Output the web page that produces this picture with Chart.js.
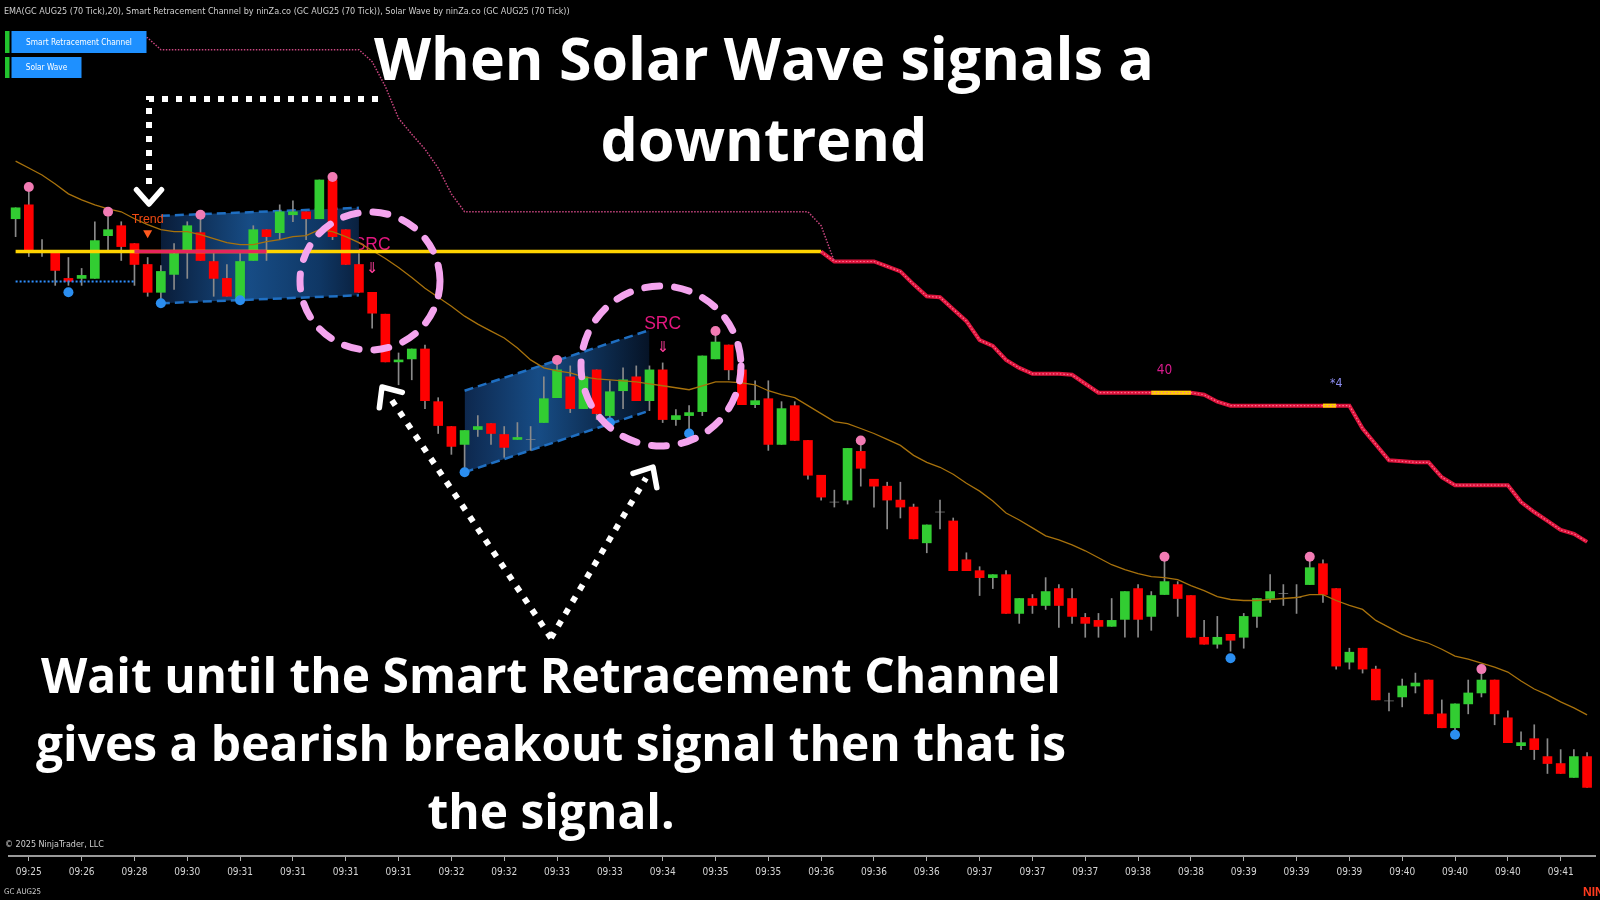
<!DOCTYPE html>
<html>
<head>
<meta charset="utf-8">
<title>GC AUG25 (70 Tick)</title>
<script src="https://cdn.jsdelivr.net/npm/chart.js@4.4.1/dist/chart.umd.min.js"></script>
<style>
  html, body { margin: 0; padding: 0; background: #000; }
  canvas { display: block; }
</style>
</head>
<body>
<canvas id="chart" width="1600" height="900"></canvas>
<script>
// x axis time labels, one every 4 bars starting at bar 1
const timeLabels = ['09:25','09:26','09:28','09:30','09:31','09:31','09:31','09:31','09:32','09:32',
  '09:33','09:33','09:34','09:35','09:35','09:36','09:36','09:36','09:37','09:37',
  '09:37','09:38','09:38','09:39','09:39','09:39','09:40','09:40','09:40','09:41'];
const tickBars = timeLabels.map((_, k) => 1 + 4 * k);

// 70 tick bars, GC AUG25
const opens = [
  3378.5,3379.9,3375.2,3375.1,3372.5,3372.5,3372.5,3376.8,3377.8,3376.0,
  3373.9,3371.1,3372.9,3375.3,3377.1,3374.2,3372.5,3370.3,3374.3,3377.4,
  3377.1,3378.9,3379.2,3378.5,3382.4,3377.4,3373.9,3371.1,3368.9,3364.1,
  3364.4,3365.4,3360.1,3357.6,3355.8,3357.3,3357.9,3356.8,3356.3,3356.3,
  3358.0,3360.5,3362.6,3359.4,3363.3,3358.7,3361.2,3362.6,3360.2,3363.3,
  3358.3,3358.7,3359.1,3364.4,3365.8,3363.3,3359.8,3360.4,3355.8,3359.7,
  3356.2,3352.7,3350.0,3350.2,3355.1,3352.3,3351.6,3350.2,3349.5,3345.9,
  3349.0,3348.1,3344.2,3343.1,3342.4,3342.7,3338.8,3340.3,3339.6,3341.3,
  3340.3,3338.4,3338.1,3337.5,3338.2,3341.3,3338.5,3340.7,3341.7,3340.6,
  3336.4,3335.7,3336.7,3336.4,3338.5,3340.3,3340.8,3340.4,3341.7,3343.8,
  3341.3,3333.9,3335.3,3333.2,3330.0,3330.4,3331.5,3332.1,3328.7,3327.3,
  3329.7,3330.8,3332.1,3328.3,3325.5,3326.2,3324.4,3323.7,3322.3,3324.4];
const highs = [
  3379.6,3381.2,3376.4,3375.1,3374.6,3373.5,3378.2,3378.7,3378.2,3376.0,
  3374.6,3373.8,3376.0,3378.2,3378.9,3375.0,3373.9,3375.0,3377.8,3377.4,
  3379.9,3380.3,3379.2,3382.4,3382.7,3377.4,3375.0,3371.1,3368.9,3365.0,
  3365.4,3365.8,3360.5,3357.6,3357.2,3358.7,3357.9,3357.6,3358.0,3357.6,
  3362.6,3364.3,3363.7,3363.0,3363.3,3362.2,3363.5,3363.7,3363.7,3364.0,
  3359.3,3359.7,3364.7,3367.2,3365.8,3363.3,3362.2,3362.2,3360.1,3360.1,
  3356.2,3352.7,3351.2,3355.4,3355.7,3352.3,3352.0,3352.0,3349.8,3347.7,
  3350.2,3348.4,3344.9,3343.5,3342.7,3343.1,3340.3,3340.7,3342.4,3341.7,
  3341.3,3338.8,3338.8,3340.3,3341.0,3341.7,3341.0,3344.5,3342.0,3340.6,
  3338.1,3338.5,3336.7,3338.8,3340.3,3342.7,3341.7,3341.7,3344.5,3344.2,
  3341.3,3335.3,3335.3,3333.5,3330.8,3332.2,3332.8,3332.1,3330.1,3329.7,
  3332.1,3333.2,3332.1,3329.0,3326.9,3327.6,3326.2,3325.1,3325.1,3324.8];
const lows = [
  3376.7,3374.7,3374.7,3371.8,3371.8,3371.8,3372.5,3375.3,3374.3,3371.8,
  3370.7,3370.3,3371.4,3372.5,3374.3,3370.7,3370.7,3370.3,3374.3,3374.3,
  3376.4,3378.2,3376.4,3378.5,3376.4,3373.9,3371.1,3367.5,3364.1,3361.8,
  3362.3,3359.4,3356.9,3354.8,3353.0,3356.6,3355.8,3354.5,3356.3,3355.2,
  3358.0,3360.5,3359.0,3359.4,3358.3,3358.0,3359.4,3360.2,3359.2,3358.0,
  3357.7,3356.9,3358.7,3364.4,3362.3,3359.8,3359.5,3355.2,3355.8,3356.2,
  3352.3,3350.2,3349.5,3349.8,3351.6,3349.5,3347.3,3348.4,3346.3,3344.9,
  3347.3,3343.1,3343.1,3340.6,3341.3,3338.8,3337.8,3338.8,3339.2,3337.4,
  3337.8,3336.4,3336.4,3337.5,3336.4,3336.4,3337.1,3340.7,3338.5,3336.4,
  3335.7,3335.3,3335.0,3335.3,3337.4,3339.9,3339.6,3338.8,3341.7,3339.9,
  3333.2,3333.2,3332.8,3330.1,3329.0,3329.4,3330.8,3328.7,3327.3,3326.6,
  3328.7,3330.4,3327.6,3325.8,3325.1,3324.1,3322.7,3322.7,3322.3,3321.3];
const closes = [
  3379.6,3375.2,3375.2,3373.3,3372.2,3372.8,3376.3,3377.4,3375.7,3373.9,
  3371.1,3373.2,3375.0,3377.8,3374.3,3372.5,3370.7,3374.2,3377.4,3376.7,
  3379.2,3379.2,3378.5,3382.4,3376.7,3373.9,3371.1,3369.0,3364.1,3364.3,
  3365.4,3360.2,3357.7,3355.6,3357.2,3357.6,3356.9,3355.5,3356.5,3356.3,
  3360.4,3363.3,3359.4,3362.6,3358.9,3361.1,3362.3,3360.2,3363.3,3358.3,
  3358.7,3359.0,3364.7,3366.1,3363.3,3359.8,3360.2,3355.8,3359.4,3356.2,
  3352.7,3350.5,3350.0,3355.4,3353.4,3351.6,3350.2,3349.5,3346.3,3347.7,
  3349.0,3343.1,3343.1,3342.4,3342.7,3338.8,3340.3,3339.6,3341.0,3339.6,
  3338.5,3337.8,3337.5,3338.1,3341.0,3338.2,3340.6,3342.0,3340.3,3336.4,
  3335.7,3336.4,3336.1,3338.5,3340.3,3341.0,3340.8,3340.4,3343.4,3340.7,
  3333.5,3334.9,3333.2,3330.1,3330.0,3331.5,3331.8,3328.7,3327.3,3329.7,
  3330.8,3332.1,3328.7,3325.8,3325.8,3325.1,3323.7,3322.7,3324.4,3321.3];

// EMA(20)
const ema20 = [
  3384.3,3383.6,3382.9,3382.0,3381.0,3380.4,3379.9,3379.5,3379.2,3378.5,
  3377.9,3377.4,3377.2,3377.2,3376.9,3376.5,3376.1,3375.9,3375.9,3376.2,
  3376.4,3376.7,3376.8,3377.4,3377.2,3376.7,3376.1,3375.3,3374.5,3373.6,
  3372.6,3371.5,3370.6,3369.7,3368.7,3367.9,3367.2,3366.5,3365.5,3364.3,
  3363.5,3363.2,3363.0,3362.6,3362.4,3362.3,3362.2,3362.1,3361.9,3361.7,
  3361.5,3361.3,3361.7,3362.1,3362.1,3362.0,3361.8,3361.2,3360.8,3360.5,
  3359.7,3358.9,3358.1,3357.9,3357.4,3356.9,3356.3,3355.7,3354.7,3354.0,
  3353.5,3352.8,3351.9,3351.1,3350.1,3348.9,3348.2,3347.4,3346.6,3346.2,
  3345.7,3345.1,3344.4,3343.7,3343.2,3342.8,3342.5,3342.4,3342.2,3341.6,
  3341.1,3340.5,3340.2,3340.1,3340.1,3340.2,3340.3,3340.4,3340.7,3340.7,
  3340.1,3339.6,3339.2,3338.1,3337.4,3336.7,3336.2,3335.8,3335.2,3334.5,
  3334.2,3333.8,3333.4,3332.9,3332.0,3331.2,3330.6,3329.9,3329.3,3328.6];

// Smart Retracement Channel trailing line, starts at bar 9
const srcTrailStart = 9;
const srcTrail = [
  3396.8,3396.7,
  3395.5,3395.5,3395.5,3395.5,3395.5,3395.5,3395.5,3395.5,3395.5,3395.5,3395.5,3395.5,3395.5,3395.5,3395.5,3395.5,
  3394.3,3391.8,3388.6,3387.0,3385.5,3383.6,3381.0,3379.2,
  3379.2,3379.2,3379.2,3379.2,3379.2,3379.2,3379.2,3379.2,3379.2,3379.2,3379.2,3379.2,3379.2,
  3379.2,3379.2,3379.2,3379.2,3379.2,3379.2,3379.2,3379.2,3379.2,3379.2,3379.2,3379.2,3379.2,
  3377.8,3374.2];

// Solar Wave trailing stop, starts at bar 61
const waveStopStart = 61;
const waveStop = [
  3375.2,3374.2,3374.2,3374.2,3374.2,3373.7,3373.2,3371.9,3370.7,3370.6,
  3369.4,3368.2,3366.3,3365.7,3364.3,3363.5,3362.9,3362.9,3362.9,3362.8,
  3361.9,3361.0,3361.0,3361.0,3361.0,3361.0,3361.0,3361.0,3361.0,3360.8,
  3360.1,3359.7,3359.7,3359.7,3359.7,3359.7,3359.7,3359.7,3359.7,3359.7,
  3359.7,3357.4,3355.8,3354.2,3354.1,3354.0,3354.0,3352.5,3351.7,3351.7,
  3351.7,3351.7,3351.7,3350.0,3349.0,3348.1,3347.2,3346.8,3346.0];
const waveHighlights = [[86, 89], [99, 100]];
const waveCountBars = [87, 100];
const waveCountText = ['40', '*4'];
const waveCountPrices = [3363.2, 3361.9];

// breakout level
const srcLevel = 3375.2;
const srcLevelBars = [0, 61];
const srcBreakBars = [9, 19];
const swingLowLevel = 3372.2;
const swingLowBars = [0, 9];

// retracement channels
const channelBars = [[11, 26], [34, 48]];
const channelTop = [[3378.8, 3379.6], [3361.2, 3367.3]];
const channelBottom = [[3370.0, 3370.8], [3353.0, 3359.2]];

// swing markers
const pinkDotBars = [1, 7, 14, 24, 41, 53, 64, 87, 98, 111];
const pinkDotPrices = [3381.7, 3379.2, 3378.9, 3382.7, 3364.3, 3367.2, 3356.2, 3344.5, 3344.5, 3333.2];
const blueDotBars = [4, 11, 17, 34, 45, 51, 92, 109];
const blueDotPrices = [3371.1, 3370.0, 3370.3, 3353.0, 3358.0, 3356.9, 3334.3, 3326.6];

// signals
const trendBar = 10;
const trendPrice = 3378.4;
const srcSignalBars = [27, 49];
const srcSignalPrices = [3375.8, 3367.9];

const headerText = 'EMA(GC AUG25 (70 Tick),20), Smart Retracement Channel by ninZa.co (GC AUG25 (70 Tick)), Solar Wave by ninZa.co (GC AUG25 (70 Tick))';
const headline = ['When Solar Wave signals a', 'downtrend'];
const caption = ['Wait until the Smart Retracement Channel', 'gives a bearish breakout signal then that is', 'the signal.'];

const BIG = "'Open Sans', 'Noto Sans', sans-serif";
const NARROW = "'Liberation Sans Narrow', 'DejaVu Sans Condensed', 'Liberation Sans', sans-serif";
const SANS = "'Liberation Sans', 'DejaVu Sans', sans-serif";

function fitFont(c, text, width, weight, family) {
  c.font = `${weight} 100px ${family}`;
  const size = 100 * width / c.measureText(text).width;
  return `${weight} ${size.toFixed(2)}px ${family}`;
}

function pts(from, values) {
  return values.map((v, k) => ({ x: from + k, y: v }));
}

function segment(bars, value) {
  return [{ x: bars[0], y: value }, { x: bars[1], y: value }];
}

function channelGradient(k, stops) {
  return (context) => {
    const chart = context.chart;
    if (!chart.chartArea) return 'rgba(20,70,130,0.8)';
    const x0 = chart.scales.x.getPixelForValue(channelBars[k][0]);
    const x1 = chart.scales.x.getPixelForValue(channelBars[k][1]);
    const g = chart.ctx.createLinearGradient(x0, 0, x1, 0);
    stops.forEach(s => g.addColorStop(s[0], s[1]));
    return g;
  };
}

const bars = opens.map((_, i) => i);
const wickData = bars.map(i => ({ x: i, y: [lows[i], highs[i]] }));
const bodyData = bars.map(i => ({ x: i, y: [opens[i], closes[i]] }));
const bodyColors = bars.map(i => closes[i] > opens[i] ? '#32cd32' : (closes[i] < opens[i] ? '#ff0000' : '#8c8c8c'));

const gradStops = [
  [[0, 'rgba(10,30,60,0.95)'], [0.45, 'rgba(24,80,140,0.95)'], [0.8, 'rgba(16,58,106,0.95)'], [1, 'rgba(10,34,66,0.95)']],
  [[0, 'rgba(14,42,82,0.95)'], [0.4, 'rgba(24,80,140,0.95)'], [1, 'rgba(6,20,40,0.95)']]
];

const channelSets = [];
channelBars.forEach((b, k) => {
  channelSets.push({
    type: 'line', order: 10,
    data: [{ x: b[0], y: channelTop[k][0] }, { x: b[1], y: channelTop[k][1] }],
    borderColor: '#1f6fc2', borderWidth: 2.5, borderDash: [9, 5], pointRadius: 0, fill: false
  });
  channelSets.push({
    type: 'line', order: 10,
    data: [{ x: b[0], y: channelBottom[k][0] }, { x: b[1], y: channelBottom[k][1] }],
    borderColor: '#1f6fc2', borderWidth: 2.5, borderDash: [9, 5], pointRadius: 0,
    fill: '-1', backgroundColor: channelGradient(k, gradStops[k])
  });
});

const highlightSets = waveHighlights.map(r => ({
  type: 'line', order: 2,
  data: pts(r[0], waveStop.slice(r[0] - waveStopStart, r[1] - waveStopStart + 1)),
  borderColor: '#ffd400', borderWidth: 4, pointRadius: 0
}));

const overlay = {
  id: 'overlay',
  beforeDraw(chart) {
    const c = chart.ctx;
    c.save();
    c.fillStyle = '#000';
    c.fillRect(0, 0, chart.width, chart.height);
    c.restore();
  },
  beforeDatasetsDraw(chart) {
    const c = chart.ctx;
    const X = v => chart.scales.x.getPixelForValue(v);
    const Y = v => chart.scales.y.getPixelForValue(v);
    c.save();
    c.textAlign = 'center';
    c.textBaseline = 'middle';

    srcSignalBars.forEach((b, k) => {
      const sx = X(b), sy = Y(srcSignalPrices[k]);
      c.fillStyle = '#e3177f';
      c.font = fitFont(c, 'SRC', 37, 400, SANS);
      c.fillText('SRC', sx, sy);
      c.fillStyle = '#ff3d9a';
      c.font = "15px 'DejaVu Sans'";
      c.fillText('\u21D3', sx, sy + 24);
    });

    waveCountBars.forEach((b, k) => {
      c.fillStyle = k === 0 ? '#d81b8c' : '#8c8cf0';
      c.font = fitFont(c, waveCountText[k], k === 0 ? 15.5 : 12.5, 400, NARROW);
      c.fillText(waveCountText[k], X(b), Y(waveCountPrices[k]));
    });
    c.restore();
  },
  afterDatasetsDraw(chart) {
    const c = chart.ctx;
    const tx = chart.scales.x.getPixelForValue(trendBar);
    const ty = chart.scales.y.getPixelForValue(trendPrice);
    c.save();
    c.textAlign = 'center';
    c.textBaseline = 'middle';
    c.fillStyle = '#f04a12';
    c.font = fitFont(c, 'Trend', 32, 400, SANS);
    c.fillText('Trend', tx, ty);
    c.fillStyle = '#ff5a1f';
    c.beginPath();
    c.moveTo(tx - 4.5, ty + 10.5);
    c.lineTo(tx + 4.5, ty + 10.5);
    c.lineTo(tx, ty + 18.5);
    c.closePath();
    c.fill();
    c.restore();
  },
  afterDraw(chart) {
    const c = chart.ctx;
    c.save();

    // indicator header
    c.textAlign = 'left';
    c.textBaseline = 'middle';
    c.fillStyle = '#cfcfcf';
    c.font = fitFont(c, headerText, 566, 400, NARROW);
    c.fillText(headerText, 4, 12);

    // indicator buttons
    const btnFont = fitFont(c, 'Smart Retracement Channel', 106, 400, NARROW);
    [['Smart Retracement Channel', 31, 22, 135], ['Solar Wave', 57, 21, 70]].forEach(b => {
      c.fillStyle = '#22c32e';
      c.fillRect(5, b[1], 4.5, b[2]);
      c.fillStyle = '#1e90ff';
      c.fillRect(11.5, b[1], b[3], b[2]);
      c.fillStyle = '#ffffff';
      c.textAlign = 'center';
      c.font = btnFont;
      c.fillText(b[0], 11.5 + b[3] / 2, b[1] + b[2] / 2 + 0.5);
    });

    c.textAlign = 'left';
    c.fillStyle = '#cfcfcf';
    c.font = fitFont(c, '\u00A9 2025 NinjaTrader, LLC', 99, 400, NARROW);
    c.fillText('\u00A9 2025 NinjaTrader, LLC', 5, 845);
    c.font = fitFont(c, 'GC AUG25', 37, 400, NARROW);
    c.fillText('GC AUG25', 4, 892);
    c.fillStyle = '#ff3b1f';
    c.textBaseline = 'alphabetic';
    c.font = "bold 12px 'Liberation Sans', sans-serif";
    c.fillText('NINJATRADER', 1583, 896);

    // dashed highlight circles
    c.strokeStyle = '#f4a4ee';
    c.lineWidth = 7;
    c.lineCap = 'round';
    c.setLineDash([15, 15]);
    [[370, 281, 70, 69], [661, 366, 80, 80]].forEach(e => {
      c.beginPath();
      c.ellipse(e[0], e[1], e[2], e[3], 0, 0, Math.PI * 2);
      c.stroke();
    });

    // white dotted arrows
    const dotted = (path) => {
      c.save();
      c.strokeStyle = '#ffffff';
      c.lineWidth = 6;
      c.lineCap = 'butt';
      c.setLineDash([6, 8]);
      c.beginPath();
      path.forEach((p, k) => k ? c.lineTo(p[0], p[1]) : c.moveTo(p[0], p[1]));
      c.stroke();
      c.restore();
    };
    const head = (tip, from, len) => {
      const a = Math.atan2(from[1] - tip[1], from[0] - tip[0]);
      c.save();
      c.strokeStyle = '#ffffff';
      c.lineWidth = 5.5;
      c.lineCap = 'round';
      c.lineJoin = 'round';
      c.setLineDash([]);
      c.beginPath();
      c.moveTo(tip[0] + len * Math.cos(a + 0.72), tip[1] + len * Math.sin(a + 0.72));
      c.lineTo(tip[0], tip[1]);
      c.lineTo(tip[0] + len * Math.cos(a - 0.72), tip[1] + len * Math.sin(a - 0.72));
      c.stroke();
      c.restore();
    };
    dotted([[378, 99], [149, 99], [149, 188]]);
    head([149, 204], [149, 120], 19);
    const apex = [551, 638];
    dotted([apex, [389, 396]]);
    head([382, 387], apex, 21);
    dotted([apex, [646, 478]]);
    head([653, 467], apex, 21);

    // headline and caption
    c.fillStyle = '#ffffff';
    c.textAlign = 'center';
    c.textBaseline = 'alphabetic';
    c.font = fitFont(c, headline[0], 780, 700, BIG);
    c.fillText(headline[0], 764, 80);
    c.fillText(headline[1], 764, 161);
    c.font = fitFont(c, caption[0], 1020, 700, BIG);
    c.fillText(caption[0], 551, 693);
    c.fillText(caption[1], 551, 761);
    c.fillText(caption[2], 551, 829);

    c.restore();
  }
};

new Chart(document.getElementById('chart'), {
  type: 'bar',
  data: {
    datasets: [
      { type: 'bar', order: 7, data: bodyData, backgroundColor: bodyColors, barThickness: 9, grouped: false, borderWidth: 0 },
      { type: 'bar', order: 8, data: wickData, backgroundColor: '#8a8a8a', barThickness: 1, grouped: false, borderWidth: 0 },
      ...channelSets,
      { type: 'line', order: 6, data: pts(0, ema20), borderColor: '#a8720c', borderWidth: 1.3, pointRadius: 0, tension: 0 },
      { type: 'line', order: 5, data: segment(srcLevelBars, srcLevel), borderColor: '#ffd400', borderWidth: 3.5, pointRadius: 0 },
      { type: 'line', order: 4, data: segment(srcBreakBars, srcLevel), borderColor: '#e8245c', borderWidth: 3.5, pointRadius: 0 },
      { type: 'line', order: 5, data: segment(swingLowBars, swingLowLevel), borderColor: '#2f8fff', borderWidth: 2, borderDash: [2, 2], pointRadius: 0 },
      { type: 'line', order: 3, data: pts(srcTrailStart, srcTrail), borderColor: '#c8457f', borderWidth: 1.5, borderDash: [1.5, 1.5], pointRadius: 0 },
      { type: 'line', order: 3, data: pts(waveStopStart, waveStop), borderColor: '#dc143c', borderWidth: 4, pointRadius: 0 },
      { type: 'line', order: 2, data: pts(waveStopStart, waveStop), borderColor: '#ff7090', borderWidth: 1.2, borderDash: [1.5, 2], pointRadius: 0 },
      ...highlightSets,
      { type: 'line', order: 1, showLine: false, data: pinkDotBars.map((b, k) => ({ x: b, y: pinkDotPrices[k] })), pointRadius: 5, pointBackgroundColor: '#f27bb4', pointBorderWidth: 0 },
      { type: 'line', order: 1, showLine: false, data: blueDotBars.map((b, k) => ({ x: b, y: blueDotPrices[k] })), pointRadius: 5, pointBackgroundColor: '#2b8ef0', pointBorderWidth: 0 }
    ]
  },
  options: {
    responsive: false,
    devicePixelRatio: 1,
    animation: false,
    events: [],
    layout: { padding: { left: 9, right: 0, top: 0, bottom: 0 } },
    plugins: { legend: { display: false }, tooltip: { enabled: false } },
    scales: {
      x: {
        type: 'linear',
        offset: false,
        min: -0.5,
        max: 119.6,
        afterBuildTicks: axis => { axis.ticks = tickBars.map(v => ({ value: v })); },
        afterFit: axis => { axis.height = 44; },
        ticks: {
          autoSkip: false,
          maxRotation: 0,
          padding: 5,
          color: '#d4d4d4',
          font: { family: NARROW, size: 10 },
          callback: v => timeLabels[tickBars.indexOf(v)] || ''
        },
        grid: { offset: false, drawOnChartArea: false, drawTicks: true, tickLength: 5, color: '#b0b0b0' },
        border: { display: true, color: '#9a9a9a', width: 2 }
      },
      y: { display: false, min: 3314.4, max: 3400 }
    }
  },
  plugins: [overlay]
});
</script>
</body>
</html>
